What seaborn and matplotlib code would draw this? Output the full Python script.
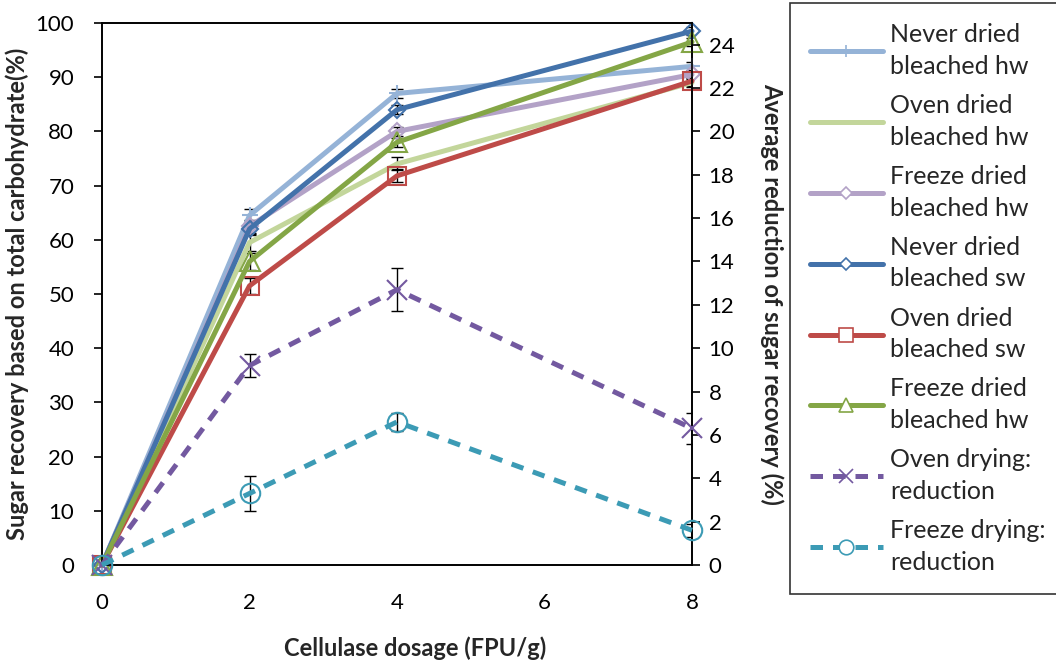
import numpy as np
import pandas as pd
import seaborn as sns
import matplotlib.pyplot as plt
from matplotlib.lines import Line2D

sns.set_style("white")
plt.rcParams['font.family'] = ['Lato', 'DejaVu Sans']

dosage = [0, 2, 4, 8]

# sugar recovery (%), left axis
never_hw = [0, 64.5, 87, 92]
oven_hw = [0, 59.5, 74, 89]
freeze_hw = [0, 62.5, 80, 90.5]
never_sw = [0, 62, 84, 98.5]
oven_sw = [0, 51.5, 71.8, 89.3]
freeze_hw2 = [0, 56, 78, 96.5]
# error (left axis)
never_hw_err = [0, 1.2, 0.8, 0.8]
oven_hw_err = [0, 1.5, 1.2, 0.8]
freeze_hw_err = [0, 1.2, 0.8, 0.8]
never_sw_err = [0, 1.2, 0.8, 0.8]
oven_sw_err = [0, 1.5, 1.2, 1.0]
freeze_hw2_err = [0, 1.5, 0.8, 0.8]

# average reduction of sugar recovery (%), right axis
oven_red = [0, 9.2, 12.7, 6.3]
freeze_red = [0, 3.3, 6.6, 1.6]
oven_red_err = [0, 0.55, 1.0, 0.7]
freeze_red_err = [0, 0.8, 0.4, 0.3]

labels = ["Never dried\nbleached hw", "Oven dried\nbleached hw", "Freeze dried\nbleached hw",
          "Never dried\nbleached sw", "Oven dried\nbleached sw", "Freeze dried\nbleached hw",
          "Oven drying:\nreduction", "Freeze drying:\nreduction"]

left_series = [
    (never_hw, never_hw_err, "#95B3D7", "+", 11),
    (oven_hw, oven_hw_err, "#C3D69B", None, 0),
    (freeze_hw, freeze_hw_err, "#B3A2C7", "D", 8),
    (never_sw, never_sw_err, "#4372AA", "D", 8),
    (oven_sw, oven_sw_err, "#BE4B48", "s", 13),
    (freeze_hw2, freeze_hw2_err, "#84A646", "^", 14),
]
right_series = [
    (oven_red, oven_red_err, "#7359A0", "x", 14),
    (freeze_red, freeze_red_err, "#3C9BB5", "o", 14),
]

fig = plt.figure(figsize=(10.56, 6.62), dpi=100)
ax = fig.add_axes([102/1056, 1-565/662, 590/1056, 542/662])
ax2 = ax.twinx()

handles = []
for vals, err, col, mk, ms in left_series:
    ax.errorbar(dosage, vals, yerr=err, fmt='none', ecolor='black', elinewidth=1,
                capsize=4, capthick=1, zorder=1)
    sns.lineplot(x=dosage, y=vals, ax=ax, color=col, lw=3.6, marker=mk, ms=ms,
                 mfc='none', mec=col, mew=1.5, clip_on=False, zorder=3)
    handles.append(Line2D([], [], color=col, lw=3.6, marker=mk, ms=ms*0.75,
                          mfc='white', mec=col, mew=1.2))

for vals, err, col, mk, ms in right_series:
    ax2.errorbar(dosage, vals, yerr=err, fmt='none', ecolor='black', elinewidth=1,
                 capsize=4, capthick=1, zorder=1)
    sns.lineplot(x=dosage, y=vals, ax=ax2, color=col, lw=3.6, ls=(0, (2.5, 2)),
                 marker=mk, ms=ms, mfc='none', mec=col, mew=1.5, clip_on=False,
                 zorder=3)
    handles.append(Line2D([], [], color=col, lw=3.6, ls=(0, (2.5, 2)), marker=mk,
                          ms=ms*0.75, mfc='white', mec=col, mew=1.2))

ax.set_xlim(0, 8)
ax.set_ylim(0, 100)
ax.set_xticks([0, 2, 4, 6, 8])
ax.set_yticks(range(0, 101, 10))
ax2.set_ylim(0, 25)
ax2.set_yticks(range(0, 25, 2))

for a in (ax, ax2):
    for s in a.spines.values():
        s.set_color('black')
        s.set_linewidth(1.2)
    a.tick_params(direction='out', length=6, width=1.2, colors='black', labelsize=16)
ax.tick_params(axis='x', pad=14)
ax.tick_params(axis='y', pad=14)
ax2.tick_params(axis='y', left=False, right=True, pad=6)

ax.set_xlabel("Cellulase dosage (FPU/g)", fontsize=17, fontweight='bold', va='center')
ax.xaxis.set_label_coords(0.53, -0.153)
ax.set_ylabel("Sugar recovery based on total carbohydrate(%)", fontsize=17,
              fontweight='bold', va='center')
ax.yaxis.set_label_coords(-0.143, 0.5)
ax2.set_ylabel("Average reduction of sugar recovery (%)", fontsize=17,
               fontweight='bold', rotation=270, va='center')
ax2.yaxis.set_label_coords(1.135, 0.5)

leg = fig.legend(handles, labels, loc='upper left',
                 bbox_to_anchor=(790/1056, 1-10/662, 280/1056, 0.01), mode='expand',
                 frameon=True, fancybox=False, fontsize=18, handlelength=2.9,
                 labelspacing=0.65, borderpad=0.8, handletextpad=0.3,
                 borderaxespad=0)
for t in leg.get_texts():
    t.set_linespacing(1.45)
leg.get_frame().set_edgecolor('black')
leg.get_frame().set_linewidth(1.2)

fig.savefig("out.png", dpi=100)
